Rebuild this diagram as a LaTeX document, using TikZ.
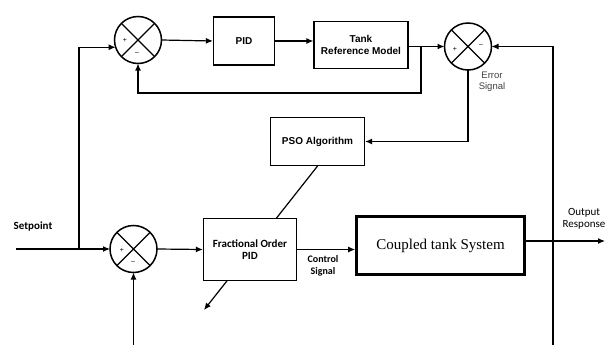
\documentclass[tikz,border=0pt]{standalone}
\usepackage{fontspec}
\setmainfont{Liberation Sans}
\newfontfamily\calfont{Carlito}
\newfontfamily\serfont{Liberation Serif}
\usetikzlibrary{arrows.meta,backgrounds}

\begin{document}
\begin{tikzpicture}[x=1pt,y=-1pt,
  wire/.style={line width=1.2pt,-{Latex[length=7pt,width=6pt]}},
  plain/.style={line width=1.3pt},
  sumj/.style={circle,draw,line width=1.5pt,minimum size=47pt,inner sep=0pt,outer sep=0pt},
  blk/.style={draw,line width=1.2pt,fill=white,align=center,inner sep=1pt,
    font=\bfseries\fontsize{10}{12}\selectfont},
  sgn/.style={font=\fontsize{7}{7}\selectfont,inner sep=0pt},
  lbl/.style={align=center,inner sep=0pt,font=\calfont\bfseries\fontsize{11}{12}\selectfont}
]
\useasboundingbox (0,0) rectangle (610,345);

% summing junctions
\node[sumj] (s1) at (138,40) {};
\node[sumj] (s2) at (468,46.5) {};
\node[sumj] (s3) at (133.5,249) {};
\foreach \s in {s1,s2,s3}
  \draw[plain] (\s.north east) -- (\s.south west) (\s.north west) -- (\s.south east);
\node[sgn] at (125,40) {+};
\node[sgn] at (137,53) {\textendash};
\node[sgn] at (455,49) {+};
\node[sgn] at (481,45) {\textendash};
\node[sgn] at (122,250) {+};
\node[sgn] at (133,262) {\textendash};

% blocks
\node[blk,minimum width=61pt,minimum height=48pt] (pid) at (244,41) {PID};
\node[blk,minimum width=94pt,minimum height=47pt] (trm) at (361,45) {Tank\\Reference Model};
\node[blk,minimum width=94pt,minimum height=48pt] (pso) at (317.5,141.5) {PSO Algorithm};
\node[blk,font=\calfont\bfseries\fontsize{11}{12}\selectfont,
  minimum width=93pt,minimum height=62pt] (fo) at (250,249.5) {Fractional Order\\PID};
\node[draw,line width=2.6pt,fill=white,minimum width=168pt,minimum height=58pt,
  font=\serfont\fontsize{15}{17}\selectfont] (ct) at (440.5,245.5) {Coupled tank System};

% free ends and corners
\coordinate (spin) at (16,249);
\coordinate (spbr) at (79,249);
\coordinate (br) at (421,46.5);
\coordinate (brlow) at (421,93);
\coordinate (out) at (605,241);
\coordinate (fbbot) at (553,345);
\coordinate (fbs3) at (133.5,345);
\coordinate (tune) at (204,310);

% signal paths
\draw[wire] (spin) -- (s3.west);
\draw[wire] (spbr) |- (s1.198);
\draw[wire] (s1.east) -- (pid.east -| pid.west);
\draw[wire] (pid.east) -- (pid.east -| trm.west);
\draw[wire] (trm.east |- s2.west) -- (s2.west);
\draw[wire] (br) -- (brlow) -| (s1.south);
\draw[wire] (s2.south) |- (pso.east);
\draw[wire] (fbbot) |- (s2.east);
\draw[wire] (fbs3) -- (s3.south);
\draw[wire] (s3.east) -- (fo.west);
\draw[wire] (fo.east) -- (fo.east -| ct.west);
\draw[wire] (ct.east |- out) -- (out);
\begin{scope}[on background layer]
  \draw[wire] (pso.south) -- (tune);
\end{scope}

% labels
\node[lbl] (setl) at (33,227) {Setpoint};
\node[lbl,font=\calfont\bfseries\fontsize{10}{12}\selectfont] (csl) at (323,266) {Control\\Signal};
\node[align=center,inner sep=0pt,text=black!75,font=\fontsize{9.5}{11}\selectfont] (esl) at (492,82) {Error\\Signal};
\node[lbl,font=\calfont\fontsize{11}{12}\selectfont] (orl) at (584,219) {Output\\Response};
\end{tikzpicture}
\end{document}
